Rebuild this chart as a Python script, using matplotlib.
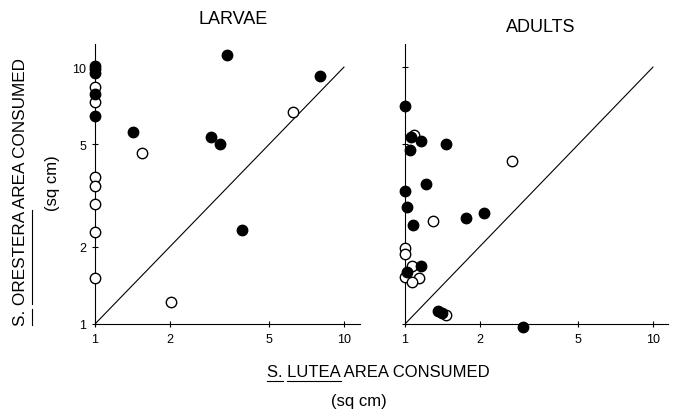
import matplotlib
matplotlib.use("Agg")
import matplotlib.pyplot as plt
from matplotlib.lines import Line2D

plt.rcParams['font.family'] = ['Liberation Sans', 'DejaVu Sans']

# values (sq cm, log scales)
larvae_filled_x = [1, 1, 1, 1, 1, 1.42, 2.92, 3.18, 3.39, 3.89, 8.0]
larvae_filled_y = [10.1, 9.8, 9.5, 7.86, 6.45, 5.58, 5.34, 5.01, 11.1, 2.32, 9.2]
larvae_open_x = [1, 1, 1, 1, 1, 1, 1, 1.55, 2.02, 6.24]
larvae_open_y = [8.4, 7.3, 3.73, 3.45, 2.93, 2.28, 1.51, 4.63, 1.22, 6.68]

adults_filled_x = [1.0, 1.06, 1.16, 1.46, 1.05, 1.22, 1.0, 1.02, 1.08, 1.76, 2.08,
                   1.16, 1.02, 1.36, 1.41, 2.99]
adults_filled_y = [7.05, 5.34, 5.15, 5.01, 4.75, 3.51, 3.29, 2.85, 2.43, 2.58, 2.70,
                   1.68, 1.59, 1.12, 1.10, 0.97]
adults_open_x = [1.09, 2.70, 1.30, 1.0, 1.0, 1.07, 1.0, 1.14, 1.07, 1.46]
adults_open_y = [5.45, 4.31, 2.52, 1.98, 1.87, 1.68, 1.52, 1.51, 1.46, 1.08]

ticks = [1, 2, 5, 10]
tick_labels = ['1', '2', '5', '10']

fig = plt.figure(figsize=(6.75, 4.1), dpi=100)
W, H = 675, 410


def make_axes(left_px, right_px, xmax, title, title_xy, ylabels):
    ax = fig.add_axes([left_px / W, (H - 325) / H, (right_px - left_px) / W, 280 / H])
    ax.set_xscale('log')
    ax.set_yscale('log')
    ax.set_xlim(1, xmax)
    ax.set_ylim(1, 12.3)
    for s in ['top', 'right']:
        ax.spines[s].set_visible(False)
    for s in ['left', 'bottom']:
        ax.spines[s].set_linewidth(0.8)
    ax.set_xticks(ticks)
    ax.set_xticklabels(tick_labels)
    ax.set_yticks(ticks)
    ax.set_yticklabels(tick_labels if ylabels else [])
    ax.minorticks_off()
    ax.tick_params(direction='inout', length=5, width=0.8, labelsize=9, pad=4)
    ax.patch.set_alpha(0)
    ax.plot([1, 10], [1, 10], color='black', lw=0.8)
    fig.text(title_xy[0] / W, 1 - title_xy[1] / H, title, ha='center', va='center',
             fontsize=13)
    return ax


ax1 = make_axes(95, 360, 11.6, 'LARVAE', (233, 20), True)
ax1.plot(larvae_open_x, larvae_open_y, 'o', ms=7.5, mfc='white', mec='black', mew=1,
         clip_on=False, zorder=3)
ax1.plot(larvae_filled_x, larvae_filled_y, 'o', ms=7.5, mfc='black', mec='black', mew=1,
         clip_on=False, zorder=4)

ax2 = make_axes(405, 668, 11.5, 'ADULTS', (541, 28), False)
ax2.plot(adults_open_x, adults_open_y, 'o', ms=7.5, mfc='white', mec='black', mew=1,
         clip_on=False, zorder=3)
ax2.plot(adults_filled_x, adults_filled_y, 'o', ms=7.5, mfc='black', mec='black', mew=1,
         clip_on=False, zorder=4)

renderer = fig.canvas.get_renderer()


def text_len(s, size, rotation=0):
    t = fig.text(0, 0, s, fontsize=size, rotation=rotation)
    bb = t.get_window_extent(renderer)
    t.remove()
    return bb.height if rotation else bb.width


def underline_label(label, words, x0, y0, size, rotation=0, off=4):
    # x0, y0: pixel position of label start (image coords, y down)
    if rotation:
        fig.text(x0 / W, 1 - y0 / H, label, fontsize=size, rotation=90,
                 ha='right', va='bottom')
    else:
        fig.text(x0 / W, 1 - y0 / H, label, fontsize=size, ha='left', va='baseline')
    for w in words:
        i = label.index(w)
        end = text_len(label[:i] + w, size, rotation)
        start = end - text_len(w, size, rotation)
        if rotation:
            xs = [x0 + off, x0 + off]
            ys = [y0 - start, y0 - end]
        else:
            xs = [x0 + start, x0 + end]
            ys = [y0 + off, y0 + off]
        fig.add_artist(Line2D([x / W for x in xs], [1 - y / H for y in ys],
                              color='black', lw=0.8))


underline_label('S. LUTEA AREA CONSUMED', ['S.', 'LUTEA'], 267, 377, 12, off=5)
fig.text(359 / W, 1 - 402 / H, '(sq cm)', ha='center', va='center', fontsize=12)

underline_label('S. ORESTERA AREA CONSUMED', ['S.', 'ORESTERA'], 28, 326, 12.3,
                rotation=90, off=4)
fig.text(52 / W, 1 - 183 / H, '(sq cm)', ha='center', va='center', fontsize=12,
         rotation=90)

fig.savefig('out.png', dpi=100)
